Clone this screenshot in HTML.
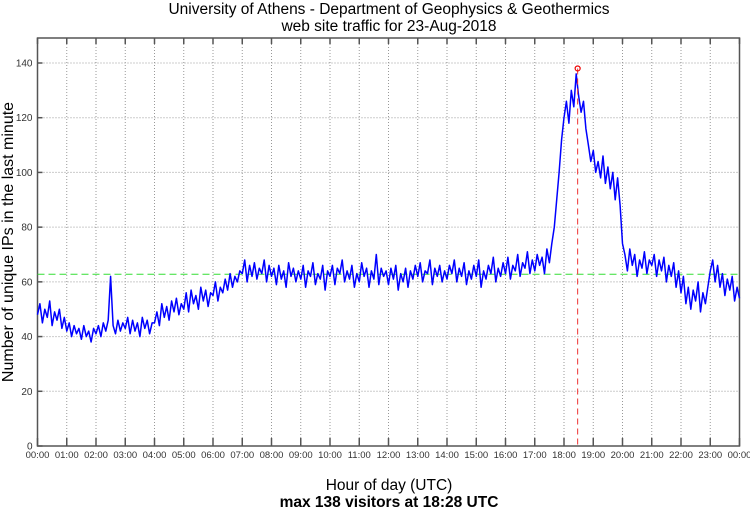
<!DOCTYPE html>
<html><head><meta charset="utf-8"><style>
body{margin:0;background:#fff;}
svg text{font-family:"Liberation Sans",sans-serif;}
</style></head><body>
<svg id="chart" width="750" height="511" xmlns="http://www.w3.org/2000/svg">
<rect width="750" height="511" fill="#fff"/>
<text x="389" y="14" font-size="15.5" text-anchor="middle">University of Athens - Department of Geophysics &amp; Geothermics</text>
<text x="389" y="31" font-size="15.5" text-anchor="middle">web site traffic for 23-Aug-2018</text>
<g id="grid"></g>
<g id="axes"></g>
<g id="series"></g>
<text transform="translate(13,242) rotate(-90)" font-size="16" text-anchor="middle">Number of unique IPs in the last minute</text>
<text x="389" y="490" font-size="15.5" text-anchor="middle">Hour of day (UTC)</text>
<text x="389" y="507" font-size="15.5" font-weight="bold" text-anchor="middle">max 138 visitors at 18:28 UTC</text>
</svg>
<script>
const yTicks=[0,20,40,60,80,100,120,140];
const xTickLabels=["00:00","01:00","02:00","03:00","04:00","05:00","06:00","07:00","08:00","09:00","10:00","11:00","12:00","13:00","14:00","15:00","16:00","17:00","18:00","19:00","20:00","21:00","22:00","23:00","00:00"];
const meanValue=[62.8];
const peakMinute=[18*60+28];
const peakValue=[138];
const visitors=[
48,52,45,50,47,53,44,49,46,50,43,47,
42,45,40,44,41,43,39,44,40,42,38,43,
41,44,40,45,42,46,62,44,41,46,42,45,
43,47,41,46,42,45,40,47,43,46,41,45,
45,49,44,52,47,51,46,53,49,54,48,52,
50,56,49,57,52,55,50,58,53,57,51,56,
55,60,53,58,56,61,57,63,58,62,60,64,
63,68,60,66,62,67,61,65,63,68,60,66,
62,65,59,66,61,64,58,67,62,65,60,64,
61,66,58,64,62,67,59,63,61,66,57,64,
62,66,59,65,63,68,60,64,61,66,58,63,
60,67,62,65,58,64,61,70,59,65,62,64,
59,65,61,66,57,63,60,65,58,64,61,66,
62,67,60,64,63,68,59,65,62,66,60,64,
61,66,63,68,60,65,62,67,59,64,61,66,
62,68,58,64,61,66,63,69,60,65,62,67,
63,69,61,66,64,70,62,67,65,71,63,68,
64,70,66,69,63,72,67,74,80,90,100,112,
120,126,118,130,124,136,128,122,126,116,110,104,
108,100,104,98,106,96,102,94,100,90,98,88,
74,70,64,72,66,70,62,68,65,71,63,68,
66,70,62,68,64,69,60,66,62,67,58,64,
56,62,52,58,50,57,53,60,49,56,52,58,
64,68,60,66,58,63,55,61,57,62,53,58,
54];
const NS="http://www.w3.org/2000/svg";
const L=37.5,R=739.5,T=38,B=446;
const xMin=m=>L+(m/1440)*(R-L);
const yVal=v=>B-v*(B-63)/140;
function mk(tag,attrs,parent){const e=document.createElementNS(NS,tag);for(const k in attrs)e.setAttribute(k,attrs[k]);parent.appendChild(e);return e;}
const grid=document.getElementById('grid'),axes=document.getElementById('axes'),series=document.getElementById('series');
yTicks.forEach(v=>{const y=yVal(v);
 if(v>0){const g=mk('line',{x1:L,x2:R,y1:y,y2:y,stroke:'#999','stroke-width':1,'stroke-dasharray':'1,2'},grid);
 
 }
 const t=mk('line',{x1:L,x2:L+5,y1:y,y2:y,stroke:'#555','stroke-width':1.5},axes);
 
 
 const lb=mk('text',{x:L-5,y:y+3.5,'font-size':10,'text-anchor':'end',fill:'#333'},axes);lb.textContent=v;
 
 
});
xTickLabels.forEach((s,i)=>{const x=xMin(i*60);
 if(i>0&&i<24){const g=mk('line',{x1:x,x2:x,y1:T,y2:B,stroke:'#999','stroke-width':1,'stroke-dasharray':'1,2'},grid);
 
 }
 const t=mk('line',{x1:x,x2:x,y1:B,y2:B-8,stroke:'#555','stroke-width':1.5},axes);
 
 
 const t2=mk('line',{x1:x,x2:x,y1:T,y2:T+6,stroke:'#555','stroke-width':1.5},axes);
 
 
 const lb=mk('text',{x:x,y:B+12,'font-size':9.5,'text-anchor':'middle',fill:'#333'},axes);lb.textContent=s;
 
 
});
const frame=mk('rect',{x:L,y:T,width:R-L,height:B-T,fill:'none',stroke:'#555','stroke-width':1.5},axes);


const mean=mk('line',{x1:L,x2:R,y1:yVal(meanValue[0]),y2:yVal(meanValue[0]),stroke:'#33dd33','stroke-width':1,'stroke-dasharray':'7,4'},series);


const step=1440/(visitors.length-1);
const pts=visitors.map((v,i)=>xMin(i*step).toFixed(1)+','+yVal(v).toFixed(1)).join(' ');
const line=mk('polyline',{points:pts,fill:'none',stroke:'#0000ff','stroke-width':1.5,'stroke-linejoin':'round'},series);


const px=xMin(peakMinute[0]),py=yVal(peakValue[0]);
const pl=mk('line',{x1:px,x2:px,y1:py,y2:B,stroke:'#ee3333','stroke-width':1,'stroke-dasharray':'6,4'},series);


const pm=mk('circle',{cx:px,cy:py,r:2.5,fill:'none',stroke:'#ee0000','stroke-width':1.2},series);


</script>
</body></html>
